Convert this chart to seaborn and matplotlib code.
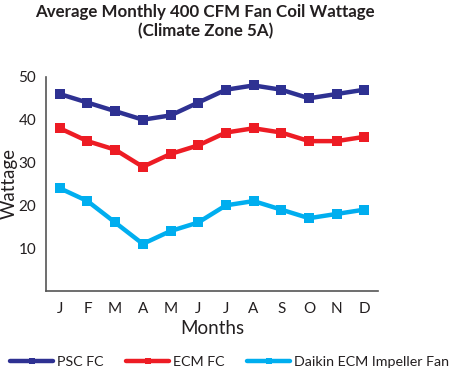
import matplotlib
matplotlib.use("Agg")
import matplotlib.pyplot as plt
import seaborn as sns
import pandas as pd

months = ["J", "F", "M", "A", "M", "J", "J", "A", "S", "O", "N", "D"]
psc_fc = [46, 44, 42, 40, 41, 44, 47, 48, 47, 45, 46, 47]
ecm_fc = [38, 35, 33, 29, 32, 34, 37, 38, 37, 35, 35, 36]
daikin_ecm = [24, 21, 16, 11, 14, 16, 20, 21, 19, 17, 18, 19]
series_names = ["PSC FC", "ECM FC", "Daikin ECM Impeller Fan"]
colors = ["#2e3192", "#ed1c24", "#00aeef"]

rows = []
for name, vals in zip(series_names, [psc_fc, ecm_fc, daikin_ecm]):
    for i, v in enumerate(vals):
        rows.append({"month_idx": i, "Wattage": v, "series": name})
df = pd.DataFrame(rows)

sns.set_style("white")
plt.rcParams["font.family"] = ["Lato", "DejaVu Sans"]

fig = plt.figure(figsize=(4.59, 3.75), dpi=100)
ax = fig.add_axes([0.100, 0.224, 0.724, 0.571])

sns.lineplot(data=df, x="month_idx", y="Wattage", hue="series",
             hue_order=series_names, palette=colors, style="series",
             markers=["s", "s", "s"], dashes=False, linewidth=3.2,
             markersize=7, markeredgewidth=0, ax=ax, legend=True)

ax.set_xlim(-0.5, 11.5)
ax.set_ylim(0, 50)
ax.set_xticks(range(12))
ax.set_xticklabels(months)
ax.set_yticks([0, 10, 20, 30, 40, 50])
ax.set_yticklabels(["", "10", "20", "30", "40", "50"])
ax.tick_params(axis="both", direction="out", length=4, width=1,
               color="#555555", labelsize=11, labelcolor="#231f20", pad=3)
ax.tick_params(axis="x", length=5)

for side in ["top", "right"]:
    ax.spines[side].set_visible(False)
for side in ["left", "bottom"]:
    ax.spines[side].set_color("#555555")
    ax.spines[side].set_linewidth(1.2)

ax.set_xlabel("Months", fontsize=13.5, color="#231f20", labelpad=3)
ax.set_ylabel("Wattage", fontsize=13.5, color="#231f20")
ax.yaxis.set_label_coords(-0.085, 0.5)

fig.text(0.447, 0.99, "Average Monthly 400 CFM Fan Coil Wattage\n(Climate Zone 5A)",
         ha="center", va="top", fontsize=12.2, fontweight="bold",
         color="#231f20", linespacing=1.25)

handles, labels = ax.get_legend_handles_labels()
ax.legend_.remove()
fig.legend(handles, labels, loc="lower center", bbox_to_anchor=(0.5, 0.0),
           ncol=3, frameon=False, fontsize=10.3, handlelength=3.0,
           columnspacing=1.6, handletextpad=0.25, borderpad=0.3,
           borderaxespad=0.2, labelcolor="#231f20")
for h in fig.legends[0].legend_handles:
    h.set_markersize(5)

fig.savefig("out.png", dpi=100)
